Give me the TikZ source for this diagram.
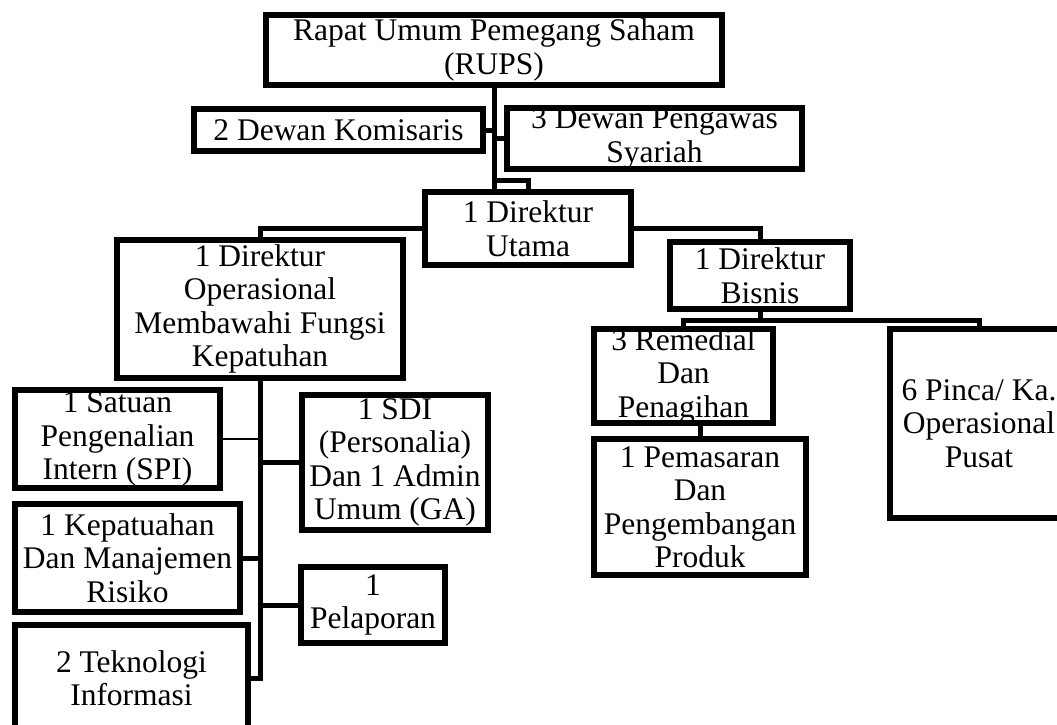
\documentclass[tikz,border=0pt]{standalone}
\usepackage{fontspec}
\setmainfont{Liberation Serif}
\begin{document}
\begin{tikzpicture}[x=1pt,y=-1pt,
  bx/.style={draw, line width=5.5pt, inner sep=0pt, outer sep=0pt, rectangle, fill=white},
  lbl/.style={font=\fontsize{31.5}{33.5}\selectfont, align=center, inner sep=0pt},
  con/.style={line width=5pt},
  thincon/.style={line width=2.2pt}]
\clip (0,0) rectangle (1057,725);
\fill[white] (0,0) rectangle (1057,725);
% boxes
\node[bx, minimum width=456pt, minimum height=70pt, label={[lbl]center:{Rapat Umum Pemegang Saham\\(RUPS)}}] (rups) at (494,50) {};
\node[bx, minimum width=289pt, minimum height=42pt, label={[lbl]center:{2 Dewan Komisaris}}] (kom) at (338.5,130) {};
\node[bx, minimum width=295pt, minimum height=61pt, label={[lbl]center:{3 Dewan Pengawas\\Syariah}}] (syr) at (654.5,138.5) {};
\node[bx, minimum width=206pt, minimum height=73pt, label={[lbl]center:{1 Direktur\\Utama}}] (dirut) at (528,228.5) {};
\node[bx, minimum width=286pt, minimum height=138pt, label={[lbl]center:{1 Direktur\\Operasional\\Membawahi Fungsi\\Kepatuhan}}] (dirops) at (260,309) {};
\node[bx, minimum width=180pt, minimum height=67pt, label={[lbl]center:{1 Direktur\\Bisnis}}] (dirbis) at (760,275.5) {};
\node[bx, minimum width=179pt, minimum height=94pt, label={[lbl]center:{3 Remedial\\Dan\\Penagihan}}] (rem) at (683.5,376) {};
\node[bx, minimum width=212pt, minimum height=136pt, label={[lbl]center:{1 Pemasaran\\Dan\\Pengembangan\\Produk}}] (pem) at (700,507) {};
\node[bx, minimum width=178pt, minimum height=189pt, label={[lbl]center:{6 Pinca/ Ka.\\Operasional\\Pusat}}] (pin) at (979,423.5) {};
\node[bx, minimum width=205pt, minimum height=98pt, label={[lbl]center:{1 Satuan\\Pengenalian\\Intern (SPI)}}] (spi) at (117.5,439) {};
\node[bx, minimum width=186pt, minimum height=135pt, label={[lbl]center:{1 SDI\\(Personalia)\\Dan 1 Admin\\Umum (GA)}}] (sdi) at (395,462.5) {};
\node[bx, minimum width=225pt, minimum height=108pt, label={[lbl]center:{1 Kepatuahan\\Dan Manajemen\\Risiko}}] (kep) at (127.5,558) {};
\node[bx, minimum width=144pt, minimum height=76pt, label={[lbl]center:{1\\Pelaporan}}] (pel) at (373,605) {};
\node[bx, minimum width=233pt, minimum height=106pt, label={[lbl]center:{2 Teknologi\\Informasi}}] (tek) at (131.5,678) {};
% junctions
\coordinate (j1) at (494,180);
\coordinate (j2) at (760,320);
% connectors
\draw[con] (rups.south) -- (rups.south |- dirut.north);
\draw[con] (j1) -| (dirut.north);
\draw[con] (kom.east) -- (kom.east -| rups.south);
\draw[con] (syr.west) -- (syr.west -| rups.south);
\draw[con] (dirut.west) -| (dirops.north);
\draw[con] (dirut.east) -| (dirbis.north);
\draw[con] (dirbis.south) -- (j2) -| (rem.north);
\draw[con] (j2) -| (pin.north);
\draw[con] (pem.north) -- (pem.north |- rem.south);
\draw[con] (dirops.south) |- (tek.east);
\draw[thincon] (spi.east) -- (spi.east -| dirops.south);
\draw[con] (sdi.west) -- (sdi.west -| dirops.south);
\draw[con] (kep.east) -- (kep.east -| dirops.south);
\draw[con] (pel.west) -- (pel.west -| dirops.south);
\end{tikzpicture}
\end{document}
